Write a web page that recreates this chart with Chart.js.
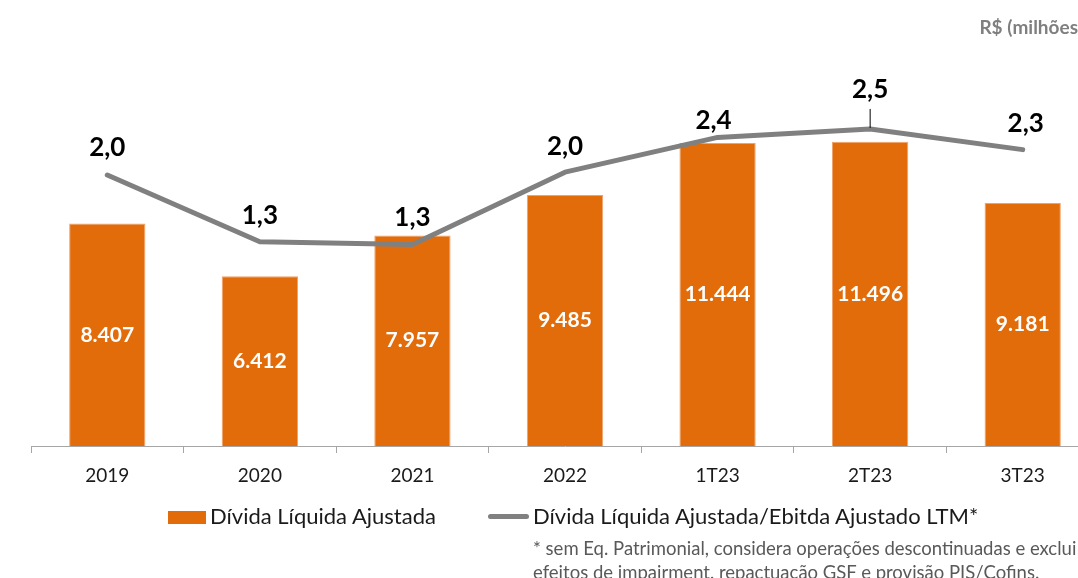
<!DOCTYPE html>
<html>
<head>
<meta charset="utf-8">
<script src="https://cdn.jsdelivr.net/npm/chart.js@4"></script>
<style>
  html, body { margin: 0; padding: 0; background: #fff; width: 1078px; height: 578px; overflow: hidden; }
  #wrap { position: relative; width: 1078px; height: 578px; overflow: hidden; font-family: 'Lato', sans-serif; }
  #myChart { position: absolute; left: 0; top: 0; }
  .abs { position: absolute; white-space: nowrap; }
  #unit { right: 0; top: 15px; font-weight: bold; font-size: 19px; color: #7f7f7f; }
  .legText { font-size: 22px; color: #1a1a1a; line-height: 26px; top: 503px; }
  #legBar { left: 168px; top: 511px; width: 38px; height: 13px; background: #E36C0A; }
  #legLine { left: 488px; top: 514px; width: 41px; height: 5px; background: #808080; border-radius: 3px; }
  #note { left: 533px; top: 536px; font-size: 18.5px; line-height: 24px; color: #595959; }
</style>
</head>
<body>
<div id="wrap">
  <canvas id="myChart" width="1110" height="578"></canvas>
  <div class="abs" id="unit">R$ (milhões</div>
  <div class="abs" id="legBar"></div>
  <div class="abs legText" style="left:210px;">Dívida Líquida Ajustada</div>
  <div class="abs" id="legLine"></div>
  <div class="abs legText" style="left:533px;">Dívida Líquida Ajustada/Ebitda Ajustado LTM*</div>
  <div class="abs" id="note">* sem Eq. Patrimonial, considera operações descontinuadas e exclui<br>efeitos de impairment, repactuação GSF e provisão PIS/Cofins.</div>
</div>
<script>
'use strict';

//Chart data
let categories = ['2019', '2020', '2021', '2022', '1T23', '2T23', '3T23'];
let dividaLiquida = [8407, 6412, 7957, 9485, 11444, 11496, 9181];
let alavancagem = [2.0, 1.29, 1.26, 2.03, 2.40, 2.49, 2.27];

//Colors
let orange = '#E36C0A';
let gray = '#808080';

// label tweaks for the line values (lift above point, small x shift)
let labelLift = [27, 26, 26.5, 26, 17, 39, 26];
let labelShift = [0, 0, 0, 0, -4, 0, 3];
let leaderIndex = 5;

function fmtThousands(v) {
  return String(v).replace(/\B(?=(\d{3})+(?!\d))/g, '.');
}

function fmtRatio(v) {
  return v.toFixed(1).replace('.', ',');
}

// draws the value labels on bars and above the line
let valueLabels = {
  id: 'valueLabels',
  afterDatasetsDraw(chart) {
    let ctx = chart.ctx;
    ctx.save();
    ctx.textAlign = 'center';
    ctx.textBaseline = 'middle';

    let barMeta = chart.getDatasetMeta(0);
    ctx.fillStyle = '#ffffff';
    ctx.font = 'bold 21px Lato';
    barMeta.data.forEach(function (bar, i) {
      ctx.fillText(fmtThousands(dividaLiquida[i]), bar.x, (bar.y + bar.base) / 2);
    });

    let lineMeta = chart.getDatasetMeta(1);
    ctx.fillStyle = '#000000';
    ctx.font = 'bold 26px Lato';
    lineMeta.data.forEach(function (pt, i) {
      let ly = pt.y - labelLift[i];
      ctx.fillText(fmtRatio(alavancagem[i]), pt.x + labelShift[i], ly);
      if (i === leaderIndex) {
        ctx.strokeStyle = '#000000';
        ctx.lineWidth = 1;
        ctx.beginPath();
        ctx.moveTo(pt.x, ly + 19);
        ctx.lineTo(pt.x, pt.y - 1);
        ctx.stroke();
      }
    });
    ctx.restore();
  }
};

let ctx = document.getElementById('myChart').getContext('2d');
let myChart = new Chart(ctx, { // eslint-disable-line
  type: 'bar',
  data: {
    labels: categories,
    datasets: [{
      type: 'bar',
      label: 'Dívida Líquida Ajustada',
      data: dividaLiquida,
      backgroundColor: orange,
      borderColor: '#EFA36A',
      borderWidth: 1,
      barPercentage: 0.5,
      categoryPercentage: 1,
      yAxisID: 'y',
      order: 1
    },
    {
      type: 'line',
      label: 'Dívida Líquida Ajustada/Ebitda Ajustado LTM*',
      data: alavancagem,
      borderColor: gray,
      borderWidth: 5,
      borderCapStyle: 'round',
      borderJoinStyle: 'round',
      pointRadius: 0,
      tension: 0,
      yAxisID: 'y1',
      order: 0
    }
    ]
  },
  options: {
    responsive: false,
    animation: false,
    devicePixelRatio: 1,
    layout: {
      padding: { left: 31, right: 11, top: 20, bottom: 0 }
    },
    plugins: {
      legend: { display: false },
      tooltip: { enabled: false }
    },
    scales: {
      x: {
        offset: true,
        grid: {
          display: true,
          offset: true,
          drawOnChartArea: false,
          drawTicks: true,
          tickLength: 7,
          color: '#a6a6a6'
        },
        border: { color: '#a6a6a6', width: 1 },
        ticks: {
          color: '#1a1a1a',
          padding: 11,
          maxRotation: 0,
          font: { family: 'Lato', size: 19 }
        },
        afterFit: function (scale) {
          scale.height = 132;
        }
      },
      y: {
        display: false,
        min: 0,
        max: 16094
      },
      y1: {
        display: false,
        min: -0.883,
        max: 3.649
      }
    }
  },
  plugins: [valueLabels]
});
</script>
</body>
</html>
